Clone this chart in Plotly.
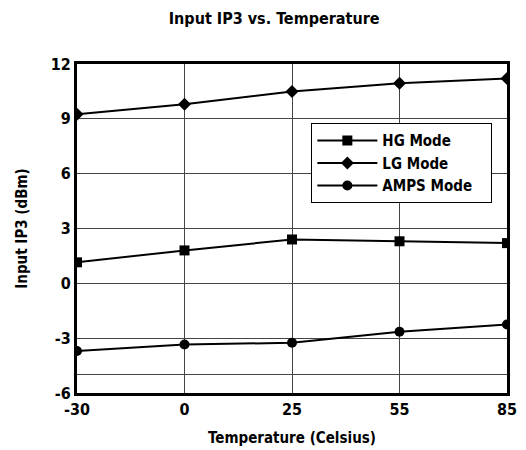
import plotly.graph_objects as go

temps = ["-30", "0", "25", "55", "85"]
hg_mode = [1.15, 1.8, 2.4, 2.3, 2.2]
lg_mode = [9.25, 9.8, 10.5, 10.95, 11.2]
amps_mode = [-3.7, -3.35, -3.25, -2.65, -2.25]
y_ticks = [-6, -5, -3, 0, 3, 6, 9, 12]
y_tick_text = ["-6", "", "-3", "0", "3", "6", "9", "12"]

FONT = "DejaVu Sans Condensed"

fig = go.Figure()
series = [("HG Mode", hg_mode, "square", 10), ("LG Mode", lg_mode, "diamond", 10), ("AMPS Mode", amps_mode, "circle", 10)]
for name, vals, sym, sz in series:
    fig.add_trace(go.Scatter(x=temps, y=vals, name=name + "\u00a0\u00a0\u00a0", mode="lines+markers",
                             line=dict(color="black", width=2),
                             marker=dict(symbol=sym, size=sz, color="black")))

fig.update_layout(
    width=526, height=450,
    paper_bgcolor="white", plot_bgcolor="white",
    margin=dict(l=69, r=27, t=56, b=65),
    font=dict(family=FONT, size=15, color="black", weight="bold"),
    title=dict(text="Input IP3 vs. Temperature", x=0.506, xanchor="center", y=0.978, yanchor="middle",
               font=dict(size=16, family=FONT, weight="bold")),
    showlegend=True,
    legend=dict(x=0.545, y=0.82, xanchor="left", yanchor="top", bordercolor="black", borderwidth=1,
                bgcolor="white", font=dict(size=15, family=FONT, weight="bold"), tracegroupgap=0, itemwidth=60),
)
fig.update_xaxes(type="category", range=[0, 4], showgrid=True, gridcolor="#444", gridwidth=1, automargin=False,
                 showline=True, linecolor="black", linewidth=3, mirror=True, ticks="",
                 tickfont=dict(size=16, family=FONT, weight="bold"),
                 title=dict(text="Temperature (Celsius)", standoff=15, font=dict(size=15, family=FONT, weight="bold")))
fig.update_yaxes(range=[-6, 12], tickvals=y_ticks, ticktext=y_tick_text, showgrid=True, automargin=False,
                 gridcolor="#444", gridwidth=1, zeroline=False,
                 showline=True, linecolor="black", linewidth=3, mirror=True, ticks="",
                 tickfont=dict(size=16, family=FONT, weight="bold"),
                 title=dict(text="Input IP3 (dBm)", standoff=20, font=dict(size=15, family=FONT, weight="bold")))

fig.write_html("out.html")
